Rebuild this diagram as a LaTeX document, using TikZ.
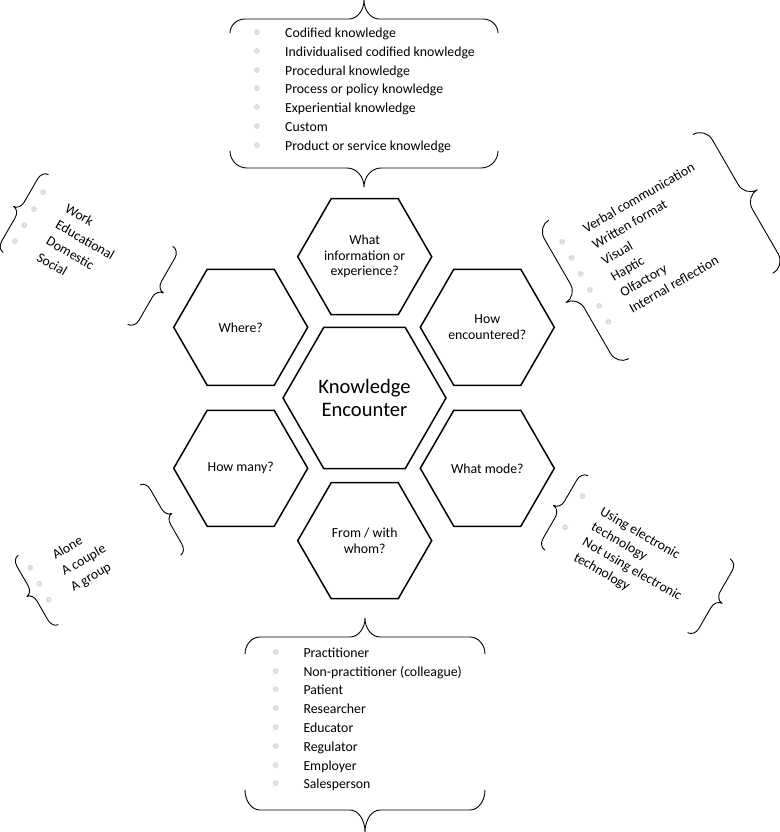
\documentclass[tikz,border=0pt]{standalone}
\usepackage{fontspec}
\setmainfont{Carlito}
\newfontfamily\dejavu{DejaVu Sans}
\usetikzlibrary{shapes.geometric}

\tikzset{
  hexa/.style={regular polygon, regular polygon sides=6, draw=black, line width=1.5pt,
    inner sep=0pt, align=center, font=\fontsize{13.8}{15.5}\selectfont},
  smallhex/.style={hexa, minimum size=134pt},
  bighex/.style={hexa, minimum size=163pt, font=\fontsize{20.6}{23.3}\selectfont},
  item/.style={anchor=base west, inner sep=0pt, font=\fontsize{13.8}{16}\selectfont},
  bul/.style={inner sep=0pt, text=black!22, font=\dejavu\fontsize{8}{8}\selectfont},
  bracestyle/.style={draw=black, line width=0.9pt, line join=round, line cap=round},
}

% #1 x, #2 y of start, #3 rotation, #4 length, #5 arm offset, #6 tip height, #7 curl radius
\newcommand{\crly}[7]{%
  \draw[bracestyle, shift={(#1,#2)}, rotate=#3]
    (0,0) .. controls (0,{0.55*#5}) and ({0.45*#7},#5) .. (#7,#5)
    -- ({0.5*#4-#7},#5)
    .. controls ({0.5*#4-0.45*#7},#5) and ({0.5*#4},{#5+0.45*(#6-#5)}) .. ({0.5*#4},#6)
    .. controls ({0.5*#4},{#5+0.45*(#6-#5)}) and ({0.5*#4+0.45*#7},#5) .. ({0.5*#4+#7},#5)
    -- ({#4-#7},#5)
    .. controls ({#4-0.45*#7},#5) and (#4,{0.55*#5}) .. (#4,0);}

\begin{document}
\begin{tikzpicture}[x=1pt,y=1pt]
\useasboundingbox (0,0) rectangle (779,-832);

% hexagons
\node[bighex] (ke) at (364.5,-398) {Knowledge\\Encounter};
\node[smallhex] (what) at (364.7,-256.7) {What\\information or\\experience?};
\node[smallhex] (whom) at (364.7,-540.7) {From / with\\whom?};
\node[smallhex] (where) at (240.7,-327.3) {Where?};
\node[smallhex] (how) at (487.3,-327.3) {How\\encountered?};
\node[smallhex] (many) at (240.7,-468.3) {How many?};
\node[smallhex] (mode) at (487.3,-468.3) {What mode?};

% top list
\foreach \t [count=\i from 0] in {Codified knowledge, Individualised codified knowledge,
  Procedural knowledge, Process or policy knowledge, Experiential knowledge, Custom,
  Product or service knowledge} {
  \node[item] (top\i) at (285,{-(37.3+18.9*\i)}) {\t};
  \node[bul] (topb\i) at (257,{-(32.3+18.9*\i)}) {❁};
}
\crly{230}{-33}{0}{268}{14}{33}{15}
\crly{498}{-151}{180}{268}{17}{36}{17}

% bottom list
\foreach \t [count=\i from 0] in {Practitioner, Non-practitioner (colleague), Patient,
  Researcher, Educator, Regulator, Employer, Salesperson} {
  \node[item] (bot\i) at (303.3,{-(657.3+18.8*\i)}) {\t};
  \node[bul] (botb\i) at (275.7,{-(652.3+18.8*\i)}) {❁};
}
\crly{245}{-654}{0}{240}{17}{36}{15}
\crly{485}{-790}{180}{240}{20}{42}{15}

% where list
\begin{scope}[rotate=-30, transform shape]
  \foreach \t [count=\i from 0] in {Work, Educational, Domestic, Social} {
    \node[item] (wh\i) at (161,{-(151+18.8*\i)}) {\t};
    \node[bul] (whb\i) at (134,{-(145.5+18.8*\i)}) {❁};
  }
  \crly{129}{-217}{90}{90}{7}{14}{9}
  \crly{273}{-127}{-90}{90}{7.5}{15}{9}
\end{scope}

% how encountered list
\begin{scope}[rotate=30, transform shape]
  \foreach \t [count=\i from 0] in {Verbal communication, Written format, Visual, Haptic,
    Olfactory, Internal reflection} {
    \node[item] (he\i) at (391,{-(495.2+18.5*\i)}) {\t};
    \node[bul] (heb\i) at (366,{-(490.7+18.5*\i)}) {❁};
  }
  \crly{365}{-625}{90}{160}{13}{26}{14}
  \crly{533}{-463}{-90}{160}{14}{28}{14}
\end{scope}

% what mode list
\begin{scope}[rotate=-30, transform shape]
  \node[item] (md0) at (776,-146) {Using electronic};
  \node[item] (md1) at (776,-163.5) {technology};
  \node[item] (md2) at (776,-181) {Not using electronic};
  \node[item] (md3) at (776,-198.5) {technology};
  \node[bul] (mdb0) at (753,-139) {❁};
  \node[bul] (mdb1) at (753,-174) {❁};
  \crly{747}{-204}{90}{86}{7.5}{15}{9}
  \crly{912}{-119}{-90}{85}{7.5}{15}{9}
\end{scope}

% how many list
\begin{scope}[rotate=30, transform shape]
  \foreach \t [count=\i from 0] in {Alone, A couple, A group} {
    \node[item] (hm\i) at (-232,{-(512.5+18.4*\i)}) {\t};
    \node[bul] (hmb\i) at (-258,{-(507.5+18.4*\i)}) {❁};
  }
  \crly{-262}{-570}{90}{80}{6.5}{13}{9}
  \crly{-121}{-490}{-90}{81}{6.5}{13}{9}
\end{scope}
\end{tikzpicture}
\end{document}
